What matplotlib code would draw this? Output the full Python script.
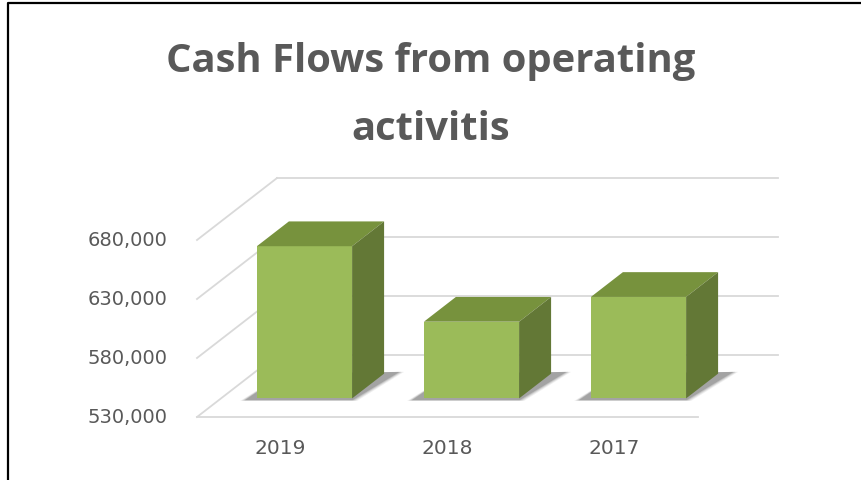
import matplotlib
matplotlib.use("Agg")
import matplotlib.pyplot as plt
from matplotlib.patches import Polygon
from matplotlib.lines import Line2D

# data
years = ['2019', '2018', '2017']
values = [659000, 595000, 616000]
ticks = [530000, 580000, 630000, 680000]
tick_labels = ['530,000', '580,000', '630,000', '680,000']
base = 530000

# oblique 3d look: a point at depth z (0 front, 1 back) is shifted by z*DX, z*DV
DX = 0.479
DV = 52500
z0, z1 = 0.3, 0.7
w = 0.57

front_col = '#9BBB59'
top_col = '#77923D'
side_col = '#637836'
grid_col = '#D9D9D9'
text_col = '#595959'

fig = plt.figure(figsize=(8.61, 4.81), dpi=100)
ax = fig.add_axes([0, 0, 1, 1])
ax.set_xlim(-1.1796, 3.976)
ax.set_ylim(476610, 884237)
ax.set_axis_off()

n = len(years)

# gridlines: left wall diagonals and back wall lines
for t in ticks:
    ax.plot([0, DX], [t, t + DV], color=grid_col, lw=1.3, zorder=1)
    ax.plot([DX, n + DX], [t + DV, t + DV], color=grid_col, lw=1.3, zorder=1)
# front edge of the floor
ax.plot([0, n], [base, base], color=grid_col, lw=1.3, zorder=1)

for i, v in enumerate(values):
    xl = i + 0.5 - w / 2 + z0 * DX
    xr = xl + w
    yb = base + z0 * DV
    yt = v + z0 * DV
    ddx = (z1 - z0) * DX
    ddv = (z1 - z0) * DV

    # soft shadow on the floor
    for k, a in enumerate([0.07, 0.10, 0.14, 0.20]):
        e = 0.03 - k * 0.009
        shadow = [(xl - 0.07 - e, yb - 1500 - e * 20000),
                  (xr + e, yb - 1500 - e * 20000),
                  (xr + ddx + 0.09 + e, yb + ddv + 1500),
                  (xl + ddx - 0.03, yb + ddv)]
        ax.add_patch(Polygon(shadow, closed=True, facecolor='#2b2b2b',
                             edgecolor='none', alpha=a, zorder=2))

    # front face
    ax.bar(xl, v - base, bottom=yb, width=w, align='edge',
           color=front_col, edgecolor='none', zorder=4)
    # top face
    ax.add_patch(Polygon([(xl, yt), (xr, yt), (xr + ddx, yt + ddv), (xl + ddx, yt + ddv)],
                         closed=True, facecolor=top_col, edgecolor='none', zorder=4))
    # side face
    ax.add_patch(Polygon([(xr, yb), (xr + ddx, yb + ddv), (xr + ddx, yt + ddv), (xr, yt)],
                         closed=True, facecolor=side_col, edgecolor='none', zorder=4))

# value labels on the left
for t, lab in zip(ticks, tick_labels):
    ax.annotate(lab, (0, t), xytext=(-21, 0), textcoords='offset points',
                ha='right', va='center', fontsize=14, color=text_col,
                family='DejaVu Sans')

# category labels
for i, y in enumerate(years):
    ax.annotate(y, (i + 0.5, base), xytext=(0, -22), textcoords='offset points',
                ha='center', va='center', fontsize=14.5, color=text_col,
                family='DejaVu Sans')

fig.text(0.5, 1 - 72 / 481, 'Cash Flows from operating', ha='center', va='baseline',
         fontsize=28.8, fontweight='bold', color=text_col, family='Open Sans')
fig.text(0.5, 1 - 140 / 481, 'activitis', ha='center', va='baseline',
         fontsize=28.8, fontweight='bold', color=text_col, family='Open Sans')

# frame of the picture
fig.add_artist(Line2D([7.5 / 861, 7.5 / 861, 1], [0, 1 - 3.5 / 481, 1 - 3.5 / 481],
                      color='black', lw=1.6, transform=fig.transFigure))

fig.savefig('out.png', dpi=100)
